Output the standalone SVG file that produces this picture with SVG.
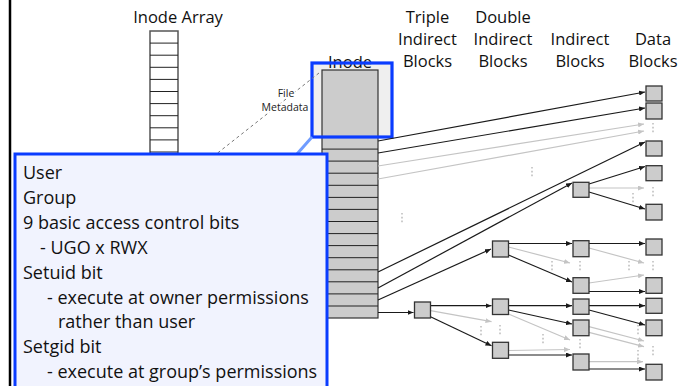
<svg xmlns="http://www.w3.org/2000/svg" width="683" height="386" viewBox="0 0 683 386">
<style>
.hdr{font-family:"Open Sans","Liberation Sans",sans-serif;font-size:16.5px;fill:#111;text-anchor:middle}
.co{font-family:"Open Sans","Liberation Sans",sans-serif;font-size:18px;fill:#111}
.small{font-family:"Open Sans","Liberation Sans",sans-serif;font-size:10.5px;fill:#222;text-anchor:middle;stroke:#fff;stroke-width:3;paint-order:stroke}
.blk{fill:#cccccc;stroke:#333;stroke-width:1.3}
.k{stroke:#1a1a1a;stroke-width:1.2;fill:none;marker-end:url(#ak)}
.g{stroke:#c4c4c4;stroke-width:1.2;fill:none;marker-end:url(#ag)}
.dots{stroke:#c0c0c0;stroke-width:1.6;stroke-dasharray:1.6 2.2;fill:none}
.row{stroke:#222;stroke-width:1}
</style>
<defs>
<marker id="ak" markerUnits="userSpaceOnUse" markerWidth="6" markerHeight="5" refX="6" refY="2.5" orient="auto"><path d="M0,0 L6,2.5 L0,5 z" fill="#1a1a1a"/></marker>
<marker id="ag" markerUnits="userSpaceOnUse" markerWidth="6" markerHeight="5" refX="6" refY="2.5" orient="auto"><path d="M0,0 L6,2.5 L0,5 z" fill="#c4c4c4"/></marker>
</defs>
<rect width="683" height="386" fill="#fff"/>
<line x1="10" y1="0" x2="10" y2="386" stroke="#000" stroke-width="2.5"/>

<g id="headers">
<text class="hdr" x="178" y="22.5">Inode Array</text>
<text class="hdr" x="427.5" y="22.5">Triple</text>
<text class="hdr" x="427.5" y="45">Indirect</text>
<text class="hdr" x="427.5" y="67">Blocks</text>
<text class="hdr" x="503" y="22.5">Double</text>
<text class="hdr" x="503" y="45">Indirect</text>
<text class="hdr" x="503" y="67">Blocks</text>
<text class="hdr" x="580" y="45">Indirect</text>
<text class="hdr" x="580" y="67">Blocks</text>
<text class="hdr" x="653" y="45">Data</text>
<text class="hdr" x="653" y="67">Blocks</text>
</g>

<g id="inode-array">
<rect x="150" y="31" width="28" height="130" fill="#fff" stroke="#555" stroke-width="1.5"/>
<path class="row" d="M150,43.1H178M150,55.2H178M150,67.3H178M150,79.4H178M150,91.5H178M150,103.6H178M150,115.7H178M150,127.8H178M150,139.9H178M150,152H178"/>
</g>

<g id="inode">
<rect x="312" y="63" width="80" height="74" fill="#efefef"/>
<text class="hdr" x="350" y="68">Inode</text>
<rect x="322" y="70" width="56" height="248" fill="#cccccc" stroke="#333" stroke-width="1.2"/>
<path class="row" d="M322,137H378M322,149.1H378M322,161.1H378M322,173.2H378M322,185.3H378M322,197.4H378M322,209.4H378M322,221.5H378M322,233.6H378M322,245.6H378M322,257.7H378M322,269.8H378M322,281.8H378M322,293.9H378M322,306H378"/>
<rect x="312" y="63" width="80" height="74" fill="none" stroke="#0a3cff" stroke-width="3.2"/>
</g>

<g id="file-metadata">
<line x1="319" y1="73" x2="217" y2="153.5" stroke="#777" stroke-width="1" stroke-dasharray="3 3"/>
<text class="small" x="286" y="97">File</text>
<text class="small" x="285" y="111">Metadata</text>
</g>

<g id="callout">
<line x1="297" y1="154" x2="312" y2="137" stroke="#6f9cff" stroke-width="3"/>
<rect x="15" y="154" width="312" height="250" fill="#f1f3fe" stroke="#0a3cff" stroke-width="3"/>
<text class="co" x="23" y="179">User</text>
<text class="co" x="23" y="204">Group</text>
<text class="co" x="23" y="229">9 basic access control bits</text>
<text class="co" x="40" y="254">- UGO x RWX</text>
<text class="co" x="23" y="279">Setuid bit</text>
<text class="co" x="47" y="304">- execute at owner permissions</text>
<text class="co" x="58" y="328">rather than user</text>
<text class="co" x="23" y="353">Setgid bit</text>
<text class="co" x="47" y="378">- execute at group’s permissions</text>
</g>

<g id="connectors">
<line class="k" x1="378" y1="141" x2="645" y2="92"/>
<line class="k" x1="378" y1="153" x2="645" y2="108"/>
<line class="g" x1="378" y1="166" x2="644" y2="124"/>
<line class="g" x1="378" y1="179" x2="644" y2="131"/>
<line class="k" x1="378" y1="272" x2="645" y2="142"/>
<line class="k" x1="378" y1="288" x2="572" y2="183"/>
<line class="k" x1="378" y1="300" x2="491" y2="249"/>
<line class="k" x1="378" y1="312.5" x2="413.5" y2="312.5"/>
<line class="k" x1="589" y1="184" x2="645" y2="166.5"/>
<line class="g" x1="589" y1="188" x2="644" y2="188"/>
<line class="k" x1="589" y1="192" x2="645" y2="209"/>
<line class="k" x1="508.5" y1="243.5" x2="572" y2="243.5"/>
<line class="g" x1="508.5" y1="247" x2="570" y2="263"/>
<line class="k" x1="508.5" y1="255" x2="572" y2="282"/>
<line class="k" x1="589" y1="243.5" x2="645" y2="243.5"/>
<line class="g" x1="589" y1="248" x2="644" y2="263"/>
<line class="g" x1="589" y1="283" x2="644" y2="275"/>
<line class="k" x1="589" y1="291.5" x2="645" y2="291.5"/>
<line class="k" x1="430.5" y1="305.7" x2="491.5" y2="305.7"/>
<line class="g" x1="430.5" y1="310.7" x2="491.5" y2="321.7"/>
<line class="k" x1="430.5" y1="316.7" x2="491.5" y2="345.7"/>
<line class="k" x1="508.5" y1="305.7" x2="572" y2="305.7"/>
<line class="k" x1="508.5" y1="310" x2="572" y2="324"/>
<line class="g" x1="508.5" y1="314" x2="570" y2="340"/>
<line class="g" x1="508.5" y1="350.5" x2="570" y2="349.5"/>
<line class="k" x1="508.5" y1="355" x2="572" y2="355"/>
<line class="k" x1="589" y1="305.7" x2="645" y2="305.7"/>
<line class="k" x1="589" y1="310" x2="645" y2="325"/>
<line class="g" x1="589" y1="326.7" x2="644" y2="341"/>
<line class="g" x1="589" y1="332.3" x2="644" y2="346.7"/>
<line class="g" x1="589" y1="361.7" x2="643" y2="361.7"/>
<line class="k" x1="589" y1="369" x2="645" y2="369"/>
</g>

<g id="ellipses">
<path class="dots" d="M653,123V134M532,167V178M402,213V224M633,193V204M653,187V198M552,261V272M580,261V272M629,261V272M653,261V272M481,326V337M500,325V336M543,334V345M580,339V350M638,325V336M638,350V361M653,346V357"/>
</g>

<g id="triple-indirect"><rect class="blk" x="414.5" y="302" width="16" height="16"/></g>
<g id="double-indirect">
<rect class="blk" x="492.5" y="241" width="16" height="16"/>
<rect class="blk" x="492.5" y="299" width="16" height="15.5"/>
<rect class="blk" x="492.5" y="342.3" width="16" height="16"/>
</g>
<g id="indirect">
<rect class="blk" x="573" y="182.3" width="16" height="15"/>
<rect class="blk" x="573" y="240.7" width="16" height="16"/>
<rect class="blk" x="573" y="277.7" width="16" height="15.6"/>
<rect class="blk" x="573" y="299" width="16" height="15.3"/>
<rect class="blk" x="573" y="320" width="16" height="15.7"/>
<rect class="blk" x="573" y="354" width="16" height="16"/>
</g>
<g id="data-blocks">
<rect class="blk" x="646" y="86" width="16" height="15"/>
<rect class="blk" x="646" y="103" width="16" height="16"/>
<rect class="blk" x="646" y="141" width="16" height="15"/>
<rect class="blk" x="646" y="165.7" width="16" height="15"/>
<rect class="blk" x="646" y="204.3" width="16" height="15.7"/>
<rect class="blk" x="646" y="239" width="16" height="16"/>
<rect class="blk" x="646" y="277.7" width="16" height="15.6"/>
<rect class="blk" x="646" y="298.3" width="16" height="15"/>
<rect class="blk" x="646" y="320" width="16" height="15.7"/>
<rect class="blk" x="646" y="364.3" width="16" height="15.7"/>
</g>
</svg>
